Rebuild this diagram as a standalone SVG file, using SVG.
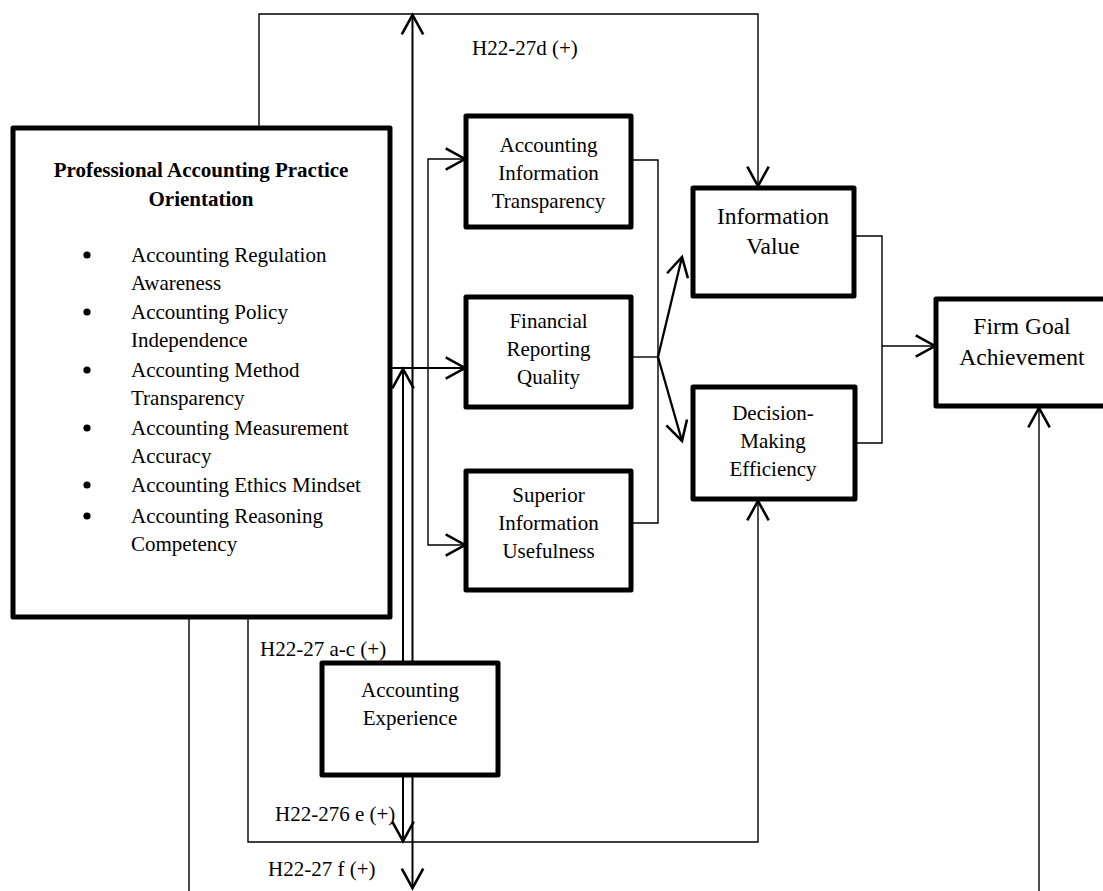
<svg xmlns="http://www.w3.org/2000/svg" width="1103" height="891" viewBox="0 0 1103 891">
  <style>
    .box { fill: #fff; stroke: #000; stroke-width: 5; stroke-linejoin: round; }
    .t { font-family: "Liberation Serif", "Times New Roman", serif; font-size: 21px; fill: #000; }
    .big { font-size: 23.5px; }
    .c { text-anchor: middle; }
    .b { font-weight: bold; }
    .thin { fill: none; stroke: #000; stroke-width: 1.4; }
    .mid { fill: none; stroke: #000; stroke-width: 2; }
    .thick { fill: none; stroke: #000; stroke-width: 2.3; }
  </style>
  <defs>
    <marker id="arrow" markerUnits="userSpaceOnUse" markerWidth="30" markerHeight="30" viewBox="-22 -14 26 28" refX="0" refY="0" orient="auto" overflow="visible">
      <path d="M -18 -10 L 0 0 L -18 10" fill="none" stroke="#000" stroke-width="2.4"/>
    </marker>
  </defs>
  <rect width="1103" height="891" fill="#fff"/>

  <g id="connectors">
    <!-- top loop to Information Value -->
    <path class="thin" d="M259 128 V14 H758 V186" marker-end="url(#arrow)"/>
    <!-- experience moderation lines -->
    <path class="mid" d="M412.5 663 V15" marker-end="url(#arrow)"/>
    <path class="mid" d="M403 663 V369" marker-end="url(#arrow)"/>
    <!-- orientation to mediators -->
    <path class="mid" d="M390 368 H465" marker-end="url(#arrow)"/>
    <path class="thin" d="M428 368 V159 H465" marker-end="url(#arrow)"/>
    <path class="thin" d="M428 368 V545 H465" marker-end="url(#arrow)"/>
    <!-- mediators merge -->
    <path class="thin" d="M631 160 H658 V523 H631"/>
    <path class="thin" d="M631 357 H658"/>
    <path class="thick" d="M658 357 L682 257" marker-end="url(#arrow)"/>
    <path class="thick" d="M658 357 L682 441" marker-end="url(#arrow)"/>
    <!-- outcomes merge to firm goal -->
    <path class="thin" d="M854 236 H882 V443 H855"/>
    <path class="thin" d="M882 346 H935" marker-end="url(#arrow)"/>
    <!-- lower loop to Decision-Making Efficiency -->
    <path class="thin" d="M248 617 V842 H758 V501" marker-end="url(#arrow)"/>
    <!-- experience downward arrows -->
    <path class="mid" d="M403 775 V841" marker-end="url(#arrow)"/>
    <path class="mid" d="M412.5 775 V888" marker-end="url(#arrow)"/>
    <!-- outer loop to Firm Goal Achievement -->
    <path class="thin" d="M189 617 V905 H1039 V408" marker-end="url(#arrow)"/>
  </g>

  <g id="labels">
    <text class="t" x="472" y="55">H22-27d (+)</text>
    <text class="t" x="260" y="656">H22-27 a-c (+)</text>
    <text class="t" x="275" y="821">H22-276 e (+)</text>
    <text class="t" x="268" y="876">H22-27 f (+)</text>
  </g>

  <g id="professional-orientation">
    <rect class="box" x="13" y="128" width="377" height="489"/>
    <text class="t b c" x="201" y="177">Professional Accounting Practice</text>
    <text class="t b c" x="201" y="206">Orientation</text>
    <g fill="#000">
      <circle cx="87" cy="255" r="3.6"/>
      <circle cx="87" cy="312" r="3.6"/>
      <circle cx="87" cy="370" r="3.6"/>
      <circle cx="87" cy="428" r="3.6"/>
      <circle cx="87" cy="485" r="3.6"/>
      <circle cx="87" cy="516" r="3.6"/>
    </g>
    <text class="t" x="131" y="262">Accounting Regulation</text>
    <text class="t" x="131" y="290">Awareness</text>
    <text class="t" x="131" y="319">Accounting Policy</text>
    <text class="t" x="131" y="347">Independence</text>
    <text class="t" x="131" y="377">Accounting Method</text>
    <text class="t" x="131" y="405">Transparency</text>
    <text class="t" x="131" y="435">Accounting Measurement</text>
    <text class="t" x="131" y="463">Accuracy</text>
    <text class="t" x="131" y="492">Accounting Ethics Mindset</text>
    <text class="t" x="131" y="523">Accounting Reasoning</text>
    <text class="t" x="131" y="551">Competency</text>
  </g>

  <g id="info-transparency">
    <rect class="box" x="466" y="116" width="165" height="111"/>
    <text class="t c" x="548.5" y="152">Accounting</text>
    <text class="t c" x="548.5" y="180">Information</text>
    <text class="t c" x="548.5" y="208">Transparency</text>
  </g>

  <g id="reporting-quality">
    <rect class="box" x="466" y="297" width="165" height="110"/>
    <text class="t c" x="548.5" y="328">Financial</text>
    <text class="t c" x="548.5" y="356">Reporting</text>
    <text class="t c" x="548.5" y="384">Quality</text>
  </g>

  <g id="information-usefulness">
    <rect class="box" x="466" y="471" width="165" height="119"/>
    <text class="t c" x="548.5" y="502">Superior</text>
    <text class="t c" x="548.5" y="530">Information</text>
    <text class="t c" x="548.5" y="558">Usefulness</text>
  </g>

  <g id="information-value">
    <rect class="box" x="693" y="188" width="161" height="108"/>
    <text class="t big c" x="773" y="224">Information</text>
    <text class="t big c" x="773" y="254">Value</text>
  </g>

  <g id="decision-efficiency">
    <rect class="box" x="693" y="387" width="162" height="112"/>
    <text class="t c" x="773" y="420">Decision-</text>
    <text class="t c" x="773" y="448">Making</text>
    <text class="t c" x="773" y="476">Efficiency</text>
  </g>

  <g id="firm-goal">
    <rect class="box" x="936" y="299" width="180" height="107"/>
    <text class="t big c" x="1022" y="334">Firm Goal</text>
    <text class="t big c" x="1022" y="365">Achievement</text>
  </g>

  <g id="accounting-experience">
    <rect class="box" x="322" y="663" width="176" height="112"/>
    <text class="t c" x="410" y="697">Accounting</text>
    <text class="t c" x="410" y="725">Experience</text>
  </g>
</svg>
